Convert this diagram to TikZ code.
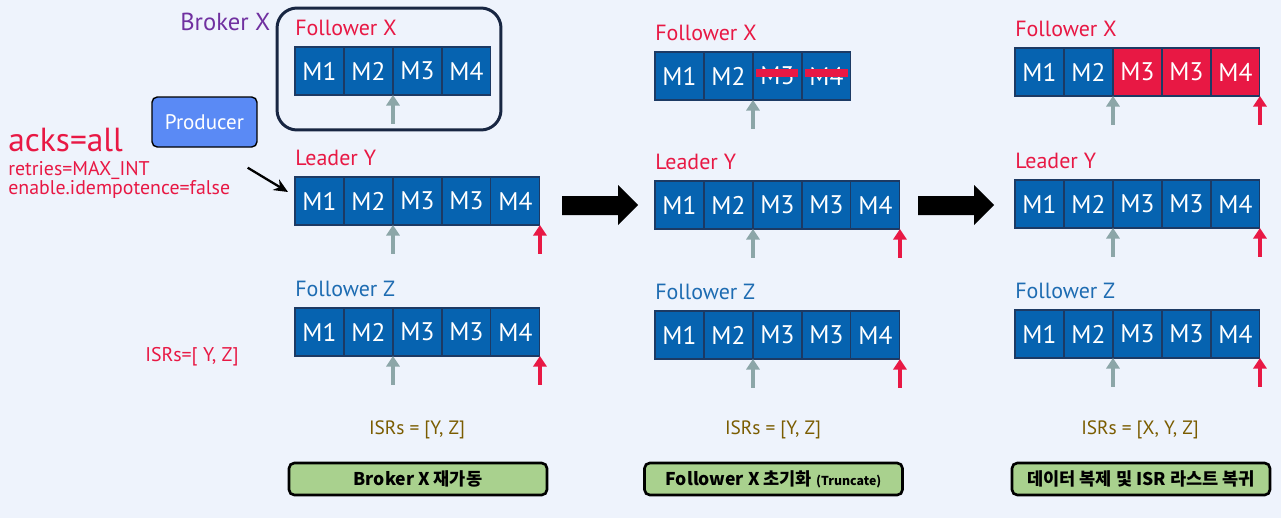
\documentclass[tikz,border=0pt]{standalone}
\usepackage{fontspec}
\setmainfont{PT Sans}
\newfontfamily\krfont{Noto Sans CJK KR}
\usetikzlibrary{positioning,arrows.meta}

\definecolor{bgblue}{RGB}{238,243,252}
\definecolor{cellblue}{RGB}{6,99,176}
\definecolor{cellline}{RGB}{28,58,100}
\definecolor{alert}{RGB}{232,24,68}
\definecolor{hwgray}{RGB}{140,166,168}
\definecolor{zblue}{RGB}{30,108,178}
\definecolor{brokerpurple}{RGB}{112,48,160}
\definecolor{brokerline}{RGB}{24,38,66}
\definecolor{prodblue}{RGB}{90,138,245}
\definecolor{isrolive}{RGB}{122,92,0}
\definecolor{stepgreen}{RGB}{169,209,142}

\tikzset{
  cell/.style={draw=cellline, line width=0.6pt, fill=cellblue, text=white, minimum width=0.98cm, minimum height=0.96cm, inner sep=0pt, outer sep=0pt, font=\fontsize{14.5}{16}\selectfont},
  lost/.style={cell, fill=alert},
  lab/.style={inner sep=0pt, text=alert, font=\fontsize{12.5}{14}\selectfont},
  side/.style={anchor=west, inner sep=0pt, text=alert, font=\fontsize{11.3}{13}\selectfont},
  hw/.style={draw=hwgray, line width=2pt, {Triangle[length=6pt,width=7.5pt]}-},
  leo/.style={hw, draw=alert},
  cut/.style={draw=alert, line width=4.5pt},
  isr/.style={text=isrolive, font=\fontsize{11}{13}\selectfont},
  stepbox/.style={draw=black, line width=1.5pt, rounded corners=3pt, fill=stepgreen, minimum width=5.16cm, minimum height=0.64cm, font=\krfont\bfseries\fontsize{10}{12}\selectfont},
}

\begin{document}
\begin{tikzpicture}[x=0.02cm, y=-0.02cm]
    \fill[bgblue] (0,0) rectangle (1281,518);

    % producer side
    \node[side, font=\fontsize{19}{21}\selectfont] (acks) at (8,140) {acks=all};
    \node[side] (retr) at (8,170) {retries=MAX\_INT};
    \node[side] (idem) at (8,189) {enable.idempotence=false};
    \node[draw=black, line width=0.8pt, rounded corners=3pt, fill=prodblue, text=white, minimum width=2.1cm, minimum height=1cm, font=\fontsize{12}{14}\selectfont] (prod) at (204.5,122) {Producer};
    \node[side] (isr0) at (145,357) {ISRs=[ Y, Z]};

    % broker x restarts
    \node[draw=brokerline, line width=1.7pt, rounded corners=0.4cm, minimum width=4.48cm, minimum height=2.44cm] (bx) at (389,69) {};
    \node[anchor=west, inner sep=0pt, text=brokerpurple, font=\fontsize{14}{16}\selectfont] (bxl) at (180,22) {Broker X};

    \node[cell, anchor=north west] (fxa1) at (295,47) {M1}; \node[cell, right=0pt of fxa1] (fxa2) {M2};
    \node[cell, right=0pt of fxa2] (fxa3) {M3}; \node[cell, right=0pt of fxa3] (fxa4) {M4};
    \node[lab, above right=6pt and 0pt of fxa1.north west] (fxal) {Follower X};
    \draw[hw] (fxa2.south east) -- ++(0,29);

    \node[cell, anchor=north west] (lya1) at (295,177) {M1}; \node[cell, right=0pt of lya1] (lya2) {M2};
    \node[cell, right=0pt of lya2] (lya3) {M3}; \node[cell, right=0pt of lya3] (lya4) {M3};
    \node[cell, right=0pt of lya4] (lya5) {M4};
    \node[lab, above right=6pt and 0pt of lya1.north west] (lyal) {Leader Y};
    \draw[hw] (lya2.south east) -- ++(0,29);
    \draw[leo] (lya5.south east) -- ++(0,29);
    \draw[-{Stealth[length=8pt,width=7pt]}, line width=1.3pt] ([shift={(-10,20)}]prod.south east) -- ([shift={(-7,-9)}]lya1.west);

    \node[cell, anchor=north west] (fza1) at (295,308) {M1}; \node[cell, right=0pt of fza1] (fza2) {M2};
    \node[cell, right=0pt of fza2] (fza3) {M3}; \node[cell, right=0pt of fza3] (fza4) {M3};
    \node[cell, right=0pt of fza4] (fza5) {M4};
    \node[lab, text=zblue, above right=6pt and 0pt of fza1.north west] (fzal) {Follower Z};
    \draw[hw] (fza2.south east) -- ++(0,29);
    \draw[leo] (fza5.south east) -- ++(0,29);

    \node[isr] (isra) at (417,430) {ISRs = [Y, Z]};
    \node[stepbox] (stepa) at (418,479) {Broker X 재가동};

    \fill (562,196) -- (618,196) -- (618,185) -- (638,205) -- (618,225) -- (618,215) -- (562,215) -- cycle;

    % follower x truncates
    \node[cell, anchor=north west] (fxb1) at (655,52) {M1}; \node[cell, right=0pt of fxb1] (fxb2) {M2};
    \node[cell, right=0pt of fxb2] (fxb3) {M3}; \node[cell, right=0pt of fxb3] (fxb4) {M4};
    \node[lab, above right=6pt and 0pt of fxb1.north west] (fxbl) {Follower X};
    \draw[cut] ([xshift=0.06cm, yshift=0.06cm]fxb3.west) -- ([xshift=-0.08cm, yshift=0.06cm]fxb3.east);
    \draw[cut] ([xshift=0.06cm, yshift=0.06cm]fxb4.west) -- ([xshift=-0.06cm, yshift=0.06cm]fxb4.east);
    \draw[hw] (fxb2.south east) -- ++(0,29);

    \node[cell, anchor=north west] (lyb1) at (655,181) {M1}; \node[cell, right=0pt of lyb1] (lyb2) {M2};
    \node[cell, right=0pt of lyb2] (lyb3) {M3}; \node[cell, right=0pt of lyb3] (lyb4) {M3};
    \node[cell, right=0pt of lyb4] (lyb5) {M4};
    \node[lab, above right=6pt and 0pt of lyb1.north west] (lybl) {Leader Y};
    \draw[hw] (lyb2.south east) -- ++(0,29);
    \draw[leo] (lyb5.south east) -- ++(0,29);

    \node[cell, anchor=north west] (fzb1) at (655,311) {M1}; \node[cell, right=0pt of fzb1] (fzb2) {M2};
    \node[cell, right=0pt of fzb2] (fzb3) {M3}; \node[cell, right=0pt of fzb3] (fzb4) {M3};
    \node[cell, right=0pt of fzb4] (fzb5) {M4};
    \node[lab, text=zblue, above right=6pt and 0pt of fzb1.north west] (fzbl) {Follower Z};
    \draw[hw] (fzb2.south east) -- ++(0,29);
    \draw[leo] (fzb5.south east) -- ++(0,29);

    \node[isr] (isrb) at (773,430) {ISRs = [Y, Z]};
    \node[stepbox] (stepb) at (773.5,479) {Follower X 초기화 {\fontsize{7}{8}\selectfont (Truncate)}};

    \fill (918,196) -- (974,196) -- (974,185) -- (994,205) -- (974,225) -- (974,215) -- (918,215) -- cycle;

    % follower x catches up
    \node[cell, anchor=north west] (fxc1) at (1015,48) {M1}; \node[cell, right=0pt of fxc1] (fxc2) {M2};
    \node[lost, right=0pt of fxc2] (fxc3) {M3}; \node[lost, right=0pt of fxc3] (fxc4) {M3};
    \node[lost, right=0pt of fxc4] (fxc5) {M4};
    \node[lab, above right=6pt and 0pt of fxc1.north west] (fxcl) {Follower X};
    \draw[hw] (fxc2.south east) -- ++(0,29);
    \draw[leo] (fxc5.south east) -- ++(0,29);

    \node[cell, anchor=north west] (lyc1) at (1015,180) {M1}; \node[cell, right=0pt of lyc1] (lyc2) {M2};
    \node[cell, right=0pt of lyc2] (lyc3) {M3}; \node[cell, right=0pt of lyc3] (lyc4) {M3};
    \node[cell, right=0pt of lyc4] (lyc5) {M4};
    \node[lab, above right=6pt and 0pt of lyc1.north west] (lycl) {Leader Y};
    \draw[hw] (lyc2.south east) -- ++(0,29);
    \draw[leo] (lyc5.south east) -- ++(0,29);

    \node[cell, anchor=north west] (fzc1) at (1015,310) {M1}; \node[cell, right=0pt of fzc1] (fzc2) {M2};
    \node[cell, right=0pt of fzc2] (fzc3) {M3}; \node[cell, right=0pt of fzc3] (fzc4) {M3};
    \node[cell, right=0pt of fzc4] (fzc5) {M4};
    \node[lab, text=zblue, above right=6pt and 0pt of fzc1.north west] (fzcl) {Follower Z};
    \draw[hw] (fzc2.south east) -- ++(0,29);
    \draw[leo] (fzc5.south east) -- ++(0,29);

    \node[isr] (isrc) at (1140,430) {ISRs = [X, Y, Z]};
    \node[stepbox] (stepc) at (1141,479) {데이터 복제 및 ISR 라스트 복귀};

\end{tikzpicture}
\end{document}
